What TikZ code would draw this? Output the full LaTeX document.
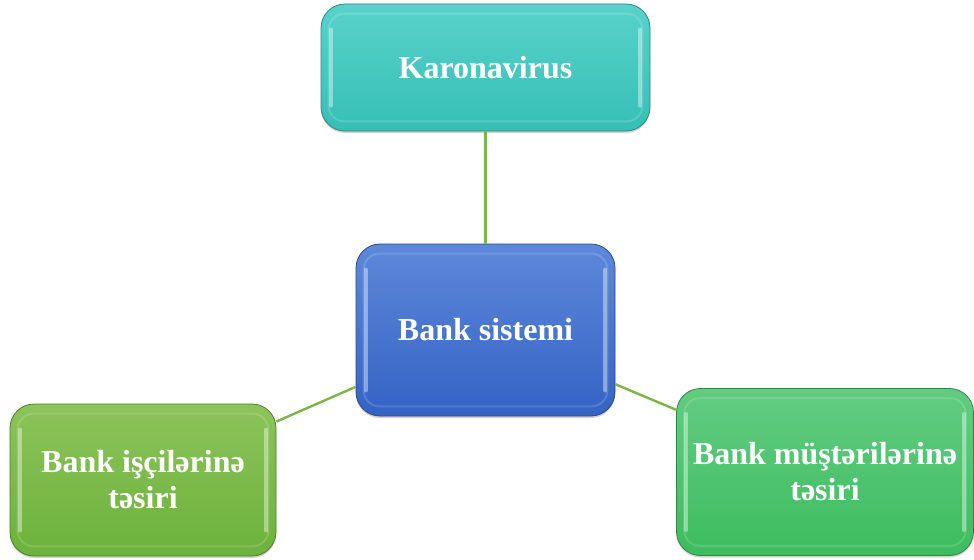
\documentclass[tikz,border=0pt]{standalone}
\usepackage{fontspec}
\setmainfont{Liberation Serif}
\usetikzlibrary{shadows}
\definecolor{linkgreen}{HTML}{7AB648}
\tikzset{
  box/.style={rounded corners=18pt, draw=#1!70!black, line width=0.6pt,
    align=center, font=\fontsize{24}{27}\selectfont\bfseries, text=white,
    inner sep=0pt, drop shadow={shadow xshift=0pt, shadow yshift=-1.5pt, opacity=0.35}},
  teal/.style={box=tealc, top color=tealtop, bottom color=tealbot},
  bluebox/.style={box=bluec, top color=bluetop, bottom color=bluebot},
  lgreen/.style={box=lgc, top color=lgtop, bottom color=lgbot},
  rgreen/.style={box=rgc, top color=rgtop, bottom color=rgbot},
  link/.style={draw=linkgreen, line width=1.8pt},
  bevel/.style={white, opacity=0.15, line width=1.5pt, rounded corners=12pt},
  sidelight/.style={white, opacity=0.4, line width=3pt, line cap=round},
}
\definecolor{tealc}{HTML}{3CC4BC}
\definecolor{tealtop}{HTML}{58D2CA}
\definecolor{tealbot}{HTML}{36BFB6}
\definecolor{bluec}{HTML}{3A68C8}
\definecolor{bluetop}{HTML}{5E88DA}
\definecolor{bluebot}{HTML}{3463C4}
\definecolor{lgc}{HTML}{72B443}
\definecolor{lgtop}{HTML}{8CC35A}
\definecolor{lgbot}{HTML}{6CB23C}
\definecolor{rgc}{HTML}{44BF63}
\definecolor{rgtop}{HTML}{62CC82}
\definecolor{rgbot}{HTML}{3DBC5E}
\begin{document}
\begin{tikzpicture}[x=0.75pt,y=-0.75pt]
\useasboundingbox (0,0) rectangle (974,560);
\node[teal, minimum width=329*0.75pt, minimum height=127*0.75pt] (kv) at (485.5,67.5) {Karonavirus};
\node[bluebox, minimum width=259*0.75pt, minimum height=172*0.75pt] (bs) at (485.5,330) {Bank sistemi};
\node[lgreen, minimum width=266*0.75pt, minimum height=152*0.75pt] (bi) at (143,480) {Bank işçilərinə\\təsiri};
\node[rgreen, minimum width=297*0.75pt, minimum height=167*0.75pt] (bm) at (825,472) {Bank müştərilərinə\\təsiri};
\draw[link] (kv) -- (bs);
\draw[link] (bi) -- (bs);
\draw[link] (bm) -- (bs);
% inner bevel highlights
\foreach \n in {kv,bs,bi,bm}{
  \draw[bevel] ([shift={(8,10)}]\n.north west) rectangle ([shift={(-8,-10)}]\n.south east);
  \draw[sidelight] ([shift={(10,26)}]\n.north west) -- ([shift={(10,-26)}]\n.south west);
  \draw[sidelight] ([shift={(-10,26)}]\n.north east) -- ([shift={(-10,-26)}]\n.south east);
}
\end{tikzpicture}
\end{document}
